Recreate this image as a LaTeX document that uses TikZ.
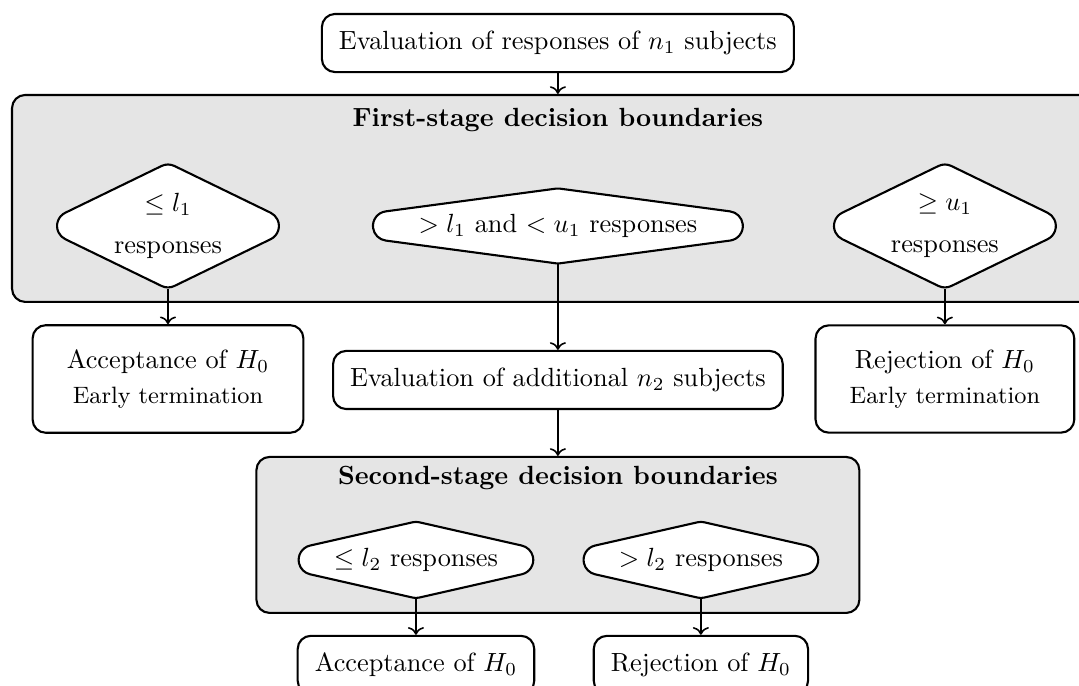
\documentclass[tikz,border=0pt]{standalone}
\usepackage{xcolor}
\usepackage{amsmath}
\usepackage{amssymb}
\usepackage{tikz}
\usetikzlibrary{arrows, arrows.meta, shapes.geometric, calc}
\pgfdeclarelayer{background}
\pgfsetlayers{background,main}
\tikzset{
    process/.style={rectangle, rounded corners=5pt, draw, thick, fill=white, inner sep=6.5pt},
    outcome/.style={process, inner xsep=13pt, inner ysep=9.3pt, align=center},
    stagebox/.style={rectangle, rounded corners=5pt, draw, thick, fill=gray!20},
    choice/.style={diamond, align=center, inner sep=0pt, outer sep=0pt}
}

\begin{document}
\begin{tikzpicture}
\useasboundingbox (0,0) rectangle (14.42,-9.167);

% first stage
\node[process] (eval1) at (7.456,-0.575) {Evaluation of responses of $n_1$ subjects};
\node (title1) at (7.456,-1.609) {\textbf{First-stage decision boundaries}};

\node[choice, aspect=2, minimum width=98.8pt, minimum height=48pt] (low1) at (2.245,-3.02) {$\le l_1$\\[4pt]responses};
\node[choice, aspect=7, minimum width=214pt, minimum height=28.6pt] (mid1) at (7.456,-3.02) {$>l_1$ and $<u_1$ responses};
\node[choice, aspect=2, minimum width=98.8pt, minimum height=48pt] (high1) at (12.628,-3.02) {$\ge u_1$\\[4pt]responses};

\node[outcome] (accept1) at (2.245,-5.065) {Acceptance of $H_0$\\[1.3pt]{\small Early termination}};
\node[process] (eval2) at (7.456,-5.078) {Evaluation of additional $n_2$ subjects};
\node[outcome] (reject1) at (12.628,-5.065) {Rejection of $H_0$\\[1.3pt]{\small Early termination}};

% second stage
\node (title2) at (7.456,-6.393) {\textbf{Second-stage decision boundaries}};

\node[choice, aspect=5, minimum width=128.6pt, minimum height=29.2pt] (low2) at (5.559,-7.483) {$\le l_2$ responses};
\node[choice, aspect=5, minimum width=128.6pt, minimum height=29.2pt] (high2) at (9.367,-7.483) {$>l_2$ responses};

\node[process] (accept2) at (5.559,-8.886) {Acceptance of $H_0$};
\node[process] (reject2) at (9.367,-8.886) {Rejection of $H_0$};

% grey panels and the diamond outlines go behind the text
\begin{pgfonlayer}{background}
\node[stagebox, minimum width=14.59cm, minimum height=2.766cm] (stage1) at (7.456,-2.652) {};
\node[stagebox, minimum width=8.058cm, minimum height=2.085cm] (stage2) at (7.456,-7.149) {};

\foreach \d/\dist/\near/\tilt in {low1/11.53pt/2.72pt/25.92, mid1/41.9pt/.75pt/7.61, high1/11.53pt/2.72pt/25.92, low2/24.66pt/1.27pt/12.79, high2/24.66pt/1.27pt/12.79}
{
    \draw[thick, fill=white, line join=round] ($(\d.north)!\near!(\d.west)$) -- ($(\d.west)!\dist!(\d.north)$)
        arc[start angle={90+\tilt}, end angle={270-\tilt}, radius=5.6pt] -- ($(\d.south)!\near!(\d.west)$)
        arc[start angle={270-\tilt}, end angle={270+\tilt}, radius=5.6pt] -- ($(\d.east)!\dist!(\d.south)$)
        arc[start angle={\tilt-90}, end angle={90-\tilt}, radius=5.6pt] -- ($(\d.north)!\near!(\d.east)$)
        arc[start angle={90-\tilt}, end angle={90+\tilt}, radius=5.6pt] -- cycle;
};
\end{pgfonlayer}

\foreach \a/\b in {eval1/stage1, low1/accept1, mid1/eval2, high1/reject1, eval2/stage2, low2/accept2, high2/reject2}
{
    \draw[->, semithick] (\a.south) -- (\b.north);
};
\end{tikzpicture}
\end{document}
